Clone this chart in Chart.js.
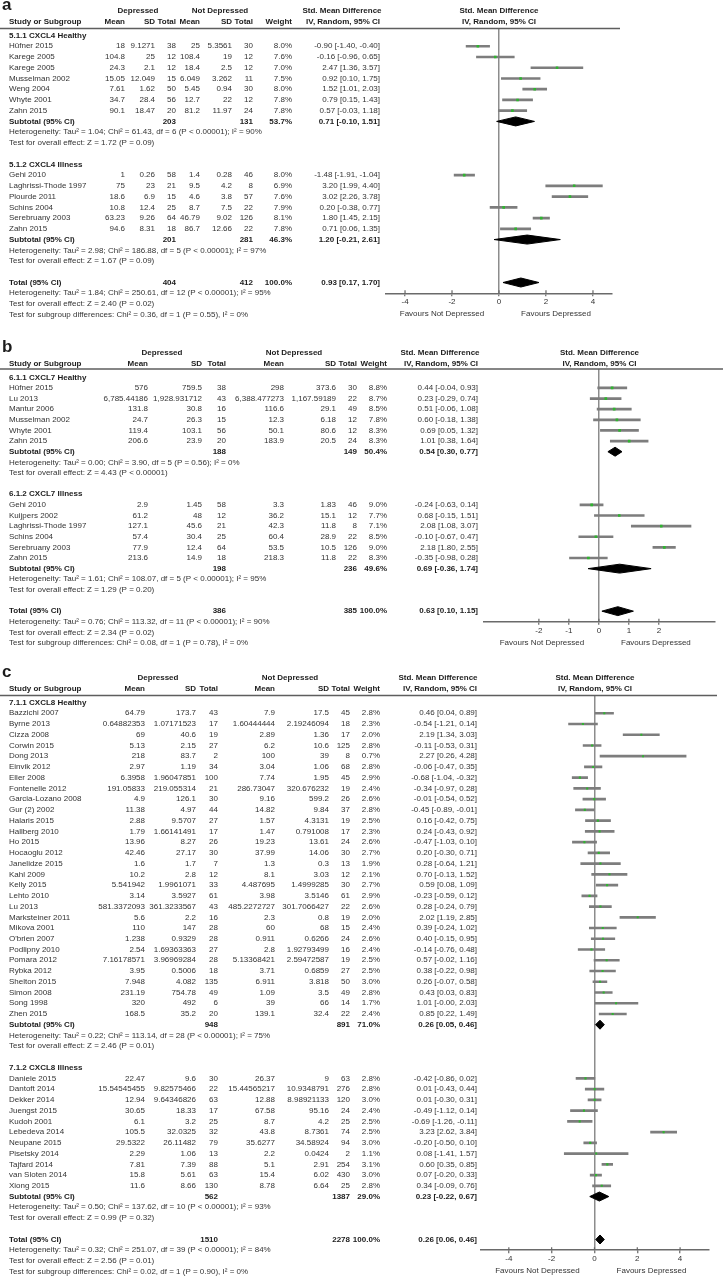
<!DOCTYPE html>
<html>
<head>
<meta charset="utf-8">
<script src="https://cdn.jsdelivr.net/npm/chart.js@4.4.1/dist/chart.umd.min.js"></script>
<style>
  body { margin: 0; background: #fff; }
  #wrap { position: relative; width: 724px; height: 1279px; }
  canvas { position: absolute; left: 0; }
</style>
</head>
<body>
<div id="wrap">
  <canvas id="panelA" width="724" height="335" style="top:0px"></canvas>
  <canvas id="panelB" width="724" height="320" style="top:335px"></canvas>
  <canvas id="panelC" width="724" height="624" style="top:655px"></canvas>
</div>
<script>
// ---- a: CXCL4 ----
const cxcl4Groups = ['5.1.1 CXCL4 Healthy', '5.1.2 CXCL4 Illness']
const cxcl4GroupSize = [7, 6]
const cxcl4Study = ['Hüfner 2015', 'Karege 2005', 'Karege 2005', 'Musselman 2002', 'Weng 2004', 'Whyte 2001', 'Zahn 2015',
  'Gehi 2010', 'Laghrissi-Thode 1997', 'Plourde 2011', 'Schins 2004', 'Serebruany 2003', 'Zahn 2015']
const cxcl4DepMean = ['18', '104.8', '24.3', '15.05', '7.61', '34.7', '90.1', '1', '75', '18.6', '10.8', '63.23', '94.6']
const cxcl4DepSD = ['9.1271', '25', '2.1', '12.049', '1.62', '28.4', '18.47', '0.26', '23', '6.9', '12.4', '9.26', '8.31']
const cxcl4DepN = [38, 12, 12, 15, 50, 56, 20, 58, 21, 15, 25, 64, 18]
const cxcl4CtlMean = ['25', '108.4', '18.4', '6.049', '5.45', '12.7', '81.2', '1.4', '9.5', '4.6', '8.7', '46.79', '86.7']
const cxcl4CtlSD = ['5.3561', '19', '2.5', '3.262', '0.94', '22', '11.97', '0.28', '4.2', '3.8', '7.5', '9.02', '12.66']
const cxcl4CtlN = [30, 12, 12, 11, 30, 12, 24, 46, 8, 57, 22, 126, 22]
const cxcl4Weight = [8.0, 7.6, 7.0, 7.5, 8.0, 7.8, 7.8, 8.0, 6.9, 7.6, 7.9, 8.1, 7.8]
const cxcl4Smd = [-0.90, -0.16, 2.47, 0.92, 1.52, 0.79, 0.57, -1.48, 3.20, 3.02, 0.20, 1.80, 0.71]
const cxcl4Lo = [-1.40, -0.96, 1.36, 0.10, 1.01, 0.15, -0.03, -1.91, 1.99, 2.26, -0.38, 1.45, 0.06]
const cxcl4Hi = [-0.40, 0.65, 3.57, 1.75, 2.03, 1.43, 1.18, -1.04, 4.40, 3.78, 0.77, 2.15, 1.35]
// subtotal 1, subtotal 2, total
const cxcl4PoolDepN = [203, 201, 404]
const cxcl4PoolCtlN = [131, 281, 412]
const cxcl4PoolWeight = [53.7, 46.3, 100.0]
const cxcl4PoolSmd = [0.71, 1.20, 0.93]
const cxcl4PoolLo = [-0.10, -0.21, 0.17]
const cxcl4PoolHi = [1.51, 2.61, 1.70]
const cxcl4Het = ['Tau² = 1.04; Chi² = 61.43, df = 6 (P < 0.00001); I² = 90%',
  'Tau² = 2.98; Chi² = 186.88, df = 5 (P < 0.00001); I² = 97%',
  'Tau² = 1.84; Chi² = 250.61, df = 12 (P < 0.00001); I² = 95%']
const cxcl4Z = ['Z = 1.72 (P = 0.09)', 'Z = 1.67 (P = 0.09)', 'Z = 2.40 (P = 0.02)']
const cxcl4SubDiff = 'Chi² = 0.36, df = 1 (P = 0.55), I² = 0%'
const cxcl4Ticks = [-4, -2, 0, 2, 4]

// ---- b: CXCL7 ----
const cxcl7Groups = ['6.1.1 CXCL7 Healthy', '6.1.2 CXCL7 Illness']
const cxcl7GroupSize = [6, 6]
const cxcl7Study = ['Hüfner 2015', 'Lu 2013', 'Mantur 2006', 'Musselman 2002', 'Whyte 2001', 'Zahn 2015',
  'Gehi 2010', 'Kuijpers 2002', 'Laghrissi-Thode 1997', 'Schins 2004', 'Serebruany 2003', 'Zahn 2015']
const cxcl7DepMean = ['576', '6,785.44186', '131.8', '24.7', '119.4', '206.6', '2.9', '61.2', '127.1', '57.4', '77.9', '213.6']
const cxcl7DepSD = ['759.5', '1,928.931712', '30.8', '26.3', '103.1', '23.9', '1.45', '48', '45.6', '30.4', '12.4', '14.9']
const cxcl7DepN = [38, 43, 16, 15, 56, 20, 58, 12, 21, 25, 64, 18]
const cxcl7CtlMean = ['298', '6,388.477273', '116.6', '12.3', '50.1', '183.9', '3.3', '36.2', '42.3', '60.4', '53.5', '218.3']
const cxcl7CtlSD = ['373.6', '1,167.59189', '29.1', '6.18', '80.6', '20.5', '1.83', '15.1', '11.8', '28.9', '10.5', '11.8']
const cxcl7CtlN = [30, 22, 49, 12, 12, 24, 46, 12, 8, 22, 126, 22]
const cxcl7Weight = [8.8, 8.7, 8.5, 7.8, 8.3, 8.3, 9.0, 7.7, 7.1, 8.5, 9.0, 8.3]
const cxcl7Smd = [0.44, 0.23, 0.51, 0.60, 0.69, 1.01, -0.24, 0.68, 2.08, -0.10, 2.18, -0.35]
const cxcl7Lo = [-0.04, -0.29, -0.06, -0.18, 0.05, 0.38, -0.63, -0.15, 1.08, -0.67, 1.80, -0.98]
const cxcl7Hi = [0.93, 0.74, 1.08, 1.38, 1.32, 1.64, 0.14, 1.51, 3.07, 0.47, 2.55, 0.28]
const cxcl7PoolDepN = [188, 198, 386]
const cxcl7PoolCtlN = [149, 236, 385]
const cxcl7PoolWeight = [50.4, 49.6, 100.0]
const cxcl7PoolSmd = [0.54, 0.69, 0.63]
const cxcl7PoolLo = [0.30, -0.36, 0.10]
const cxcl7PoolHi = [0.77, 1.74, 1.15]
const cxcl7Het = ['Tau² = 0.00; Chi² = 3.90, df = 5 (P = 0.56); I² = 0%',
  'Tau² = 1.61; Chi² = 108.07, df = 5 (P < 0.00001); I² = 95%',
  'Tau² = 0.76; Chi² = 113.32, df = 11 (P < 0.00001); I² = 90%']
const cxcl7Z = ['Z = 4.43 (P < 0.00001)', 'Z = 1.29 (P = 0.20)', 'Z = 2.34 (P = 0.02)']
const cxcl7SubDiff = 'Chi² = 0.08, df = 1 (P = 0.78), I² = 0%'
const cxcl7Ticks = [-2, -1, 0, 1, 2]

// ---- c: CXCL8 ----
const cxcl8Groups = ['7.1.1 CXCL8 Healthy', '7.1.2 CXCL8 Illness']
const cxcl8GroupSize = [29, 11]
const cxcl8Study = ['Bazzichi 2007', 'Byrne 2013', 'Cizza 2008', 'Corwin 2015', 'Dong 2013', 'Einvik 2012', 'Eller 2008',
  'Fontenelle 2012', 'Garcia-Lozano 2008', 'Gur (2) 2002', 'Halaris 2015', 'Hallberg 2010', 'Ho 2015', 'Hocaoglu 2012',
  'Janelidze 2015', 'Kahl 2009', 'Kelly 2015', 'Lehto 2010', 'Lu 2013', 'Marksteiner 2011', 'Mikova 2001', "O'brien 2007",
  'Podlipny 2010', 'Pomara 2012', 'Rybka 2012', 'Shelton 2015', 'Simon 2008', 'Song 1998', 'Zhen 2015',
  'Daniele 2015', 'Dantoft 2014', 'Dekker 2014', 'Juengst 2015', 'Kudoh 2001', 'Lebedeva 2014', 'Neupane 2015',
  'Pisetsky 2014', 'Tajfard 2014', 'van Sloten 2014', 'Xiong 2015']
const cxcl8DepMean = ['64.79', '0.64882353', '69', '5.13', '218', '2.97', '6.3958', '191.05833', '4.9', '11.38', '2.88',
  '1.79', '13.96', '42.46', '1.6', '10.2', '5.541942', '3.14', '581.3372093', '5.6', '110', '1.238', '2.54', '7.16178571',
  '3.95', '7.948', '231.19', '320', '168.5',
  '22.47', '15.54545455', '12.94', '30.65', '6.1', '105.5', '29.5322', '2.29', '7.81', '15.8', '11.6']
const cxcl8DepSD = ['173.7', '1.07171523', '40.6', '2.15', '83.7', '1.19', '1.96047851', '219.055314', '126.1', '4.97',
  '9.5707', '1.66141491', '8.27', '27.17', '1.7', '2.8', '1.9961071', '3.5927', '361.3233567', '2.2', '147', '0.9329',
  '1.69363363', '3.96969284', '0.5006', '4.082', '754.78', '492', '35.2',
  '9.6', '9.82575466', '9.64346826', '18.33', '3.2', '32.0325', '26.11482', '1.06', '7.39', '5.61', '8.66']
const cxcl8DepN = [43, 17, 19, 27, 2, 34, 100, 21, 30, 44, 27, 17, 26, 30, 7, 12, 33, 61, 43, 16, 28, 28, 27, 28, 18, 135, 49, 6, 20,
  30, 22, 63, 17, 25, 32, 79, 13, 88, 63, 130]
const cxcl8CtlMean = ['7.9', '1.60444444', '2.89', '6.2', '100', '3.04', '7.74', '286.73047', '9.16', '14.82', '1.57', '1.47',
  '19.23', '37.99', '1.3', '8.1', '4.487695', '3.98', '485.2272727', '2.3', '60', '0.911', '2.8', '5.13368421', '3.71',
  '6.911', '1.09', '39', '139.1',
  '26.37', '15.44565217', '12.88', '67.58', '8.7', '43.8', '35.6277', '2.2', '5.1', '15.4', '8.78']
const cxcl8CtlSD = ['17.5', '2.19246094', '1.36', '10.6', '39', '1.06', '1.95', '320.676232', '599.2', '9.84', '4.3131',
  '0.791008', '13.61', '14.06', '0.3', '3.03', '1.4999285', '3.5146', '301.7066427', '0.8', '68', '0.6266', '1.92793499',
  '2.59472587', '0.6859', '3.818', '3.5', '66', '32.4',
  '9', '10.9348791', '8.98921133', '95.16', '4.2', '8.7361', '34.58924', '0.0424', '2.91', '6.02', '6.64']
const cxcl8CtlN = [45, 18, 17, 125, 8, 68, 45, 19, 26, 37, 19, 17, 24, 30, 13, 12, 30, 61, 22, 19, 15, 24, 16, 19, 27, 50, 49, 14, 22,
  63, 276, 120, 24, 25, 74, 94, 2, 254, 430, 25]
const cxcl8Weight = [2.8, 2.3, 2.0, 2.8, 0.7, 2.8, 2.9, 2.4, 2.6, 2.8, 2.5, 2.3, 2.6, 2.7, 1.9, 2.1, 2.7, 2.9, 2.6, 2.0, 2.4, 2.6,
  2.4, 2.5, 2.5, 3.0, 2.8, 1.7, 2.4,
  2.8, 2.8, 3.0, 2.4, 2.5, 2.5, 3.0, 1.1, 3.1, 3.0, 2.8]
const cxcl8Smd = [0.46, -0.54, 2.19, -0.11, 2.27, -0.06, -0.68, -0.34, -0.01, -0.45, 0.16, 0.24, -0.47, 0.20, 0.28, 0.70, 0.59,
  -0.23, 0.28, 2.02, 0.39, 0.40, -0.14, 0.57, 0.38, 0.26, 0.43, 1.01, 0.85,
  -0.42, 0.01, 0.01, -0.49, -0.69, 3.23, -0.20, 0.08, 0.60, 0.07, 0.34]
const cxcl8Lo = [0.04, -1.21, 1.34, -0.53, 0.26, -0.47, -1.04, -0.97, -0.54, -0.89, -0.42, -0.43, -1.03, -0.30, -0.64, -0.13, 0.08,
  -0.59, -0.24, 1.19, -0.24, -0.15, -0.76, -0.02, -0.22, -0.07, 0.03, -0.00, 0.22,
  -0.86, -0.43, -0.30, -1.12, -1.26, 2.62, -0.50, -1.41, 0.35, -0.20, -0.09]
const cxcl8Hi = [0.89, 0.14, 3.03, 0.31, 4.28, 0.35, -0.32, 0.28, 0.52, -0.01, 0.75, 0.92, 0.10, 0.71, 1.21, 1.52, 1.09,
  0.12, 0.79, 2.85, 1.02, 0.95, 0.48, 1.16, 0.98, 0.58, 0.83, 2.03, 1.49,
  0.02, 0.44, 0.31, 0.14, -0.11, 3.84, 0.10, 1.57, 0.85, 0.33, 0.76]
const cxcl8PoolDepN = [948, 562, 1510]
const cxcl8PoolCtlN = [891, 1387, 2278]
const cxcl8PoolWeight = [71.0, 29.0, 100.0]
const cxcl8PoolSmd = [0.26, 0.23, 0.26]
const cxcl8PoolLo = [0.05, -0.22, 0.06]
const cxcl8PoolHi = [0.46, 0.67, 0.46]
const cxcl8Het = ['Tau² = 0.22; Chi² = 113.14, df = 28 (P < 0.00001); I² = 75%',
  'Tau² = 0.50; Chi² = 137.62, df = 10 (P < 0.00001); I² = 93%',
  'Tau² = 0.32; Chi² = 251.07, df = 39 (P < 0.00001); I² = 84%']
const cxcl8Z = ['Z = 2.46 (P = 0.01)', 'Z = 0.99 (P = 0.32)', 'Z = 2.56 (P = 0.01)']
const cxcl8SubDiff = 'Chi² = 0.02, df = 1 (P = 0.90), I² = 0%'
const cxcl8Ticks = [-4, -2, 0, 2, 4]

const FONT = '"Liberation Sans", Arial, sans-serif'
const AXIS_H = 20
Chart.defaults.font.family = FONT

function fmt(v) {
  return (Object.is(v, -0) ? '-' : '') + v.toFixed(2)
}

function ciText(m, lo, hi) {
  return `${fmt(m)} [${fmt(lo)}, ${fmt(hi)}]`
}

function drawForest(id, d, g) {
  // lay the rows out: group header, studies, subtotal, 2 notes, gap ... total, 3 notes
  const rows = []
  let r = 0, k = 0
  d.groups.forEach((name, gi) => {
    rows.push({r: r++, kind: 'group', text: name})
    for (let j = 0; j < d.sizes[gi]; j++) rows.push({r: r++, kind: 'study', i: k++})
    rows.push({r: r++, kind: 'pool', p: gi, text: 'Subtotal (95% CI)'})
    rows.push({r: r++, kind: 'note', text: `Heterogeneity: ${d.het[gi]}`})
    rows.push({r: r++, kind: 'note', text: `Test for overall effect: ${d.z[gi]}`})
    r++
  })
  const totalRow = r
  rows.push({r: r++, kind: 'pool', p: 2, text: 'Total (95% CI)'})
  rows.push({r: r++, kind: 'note', text: `Heterogeneity: ${d.het[2]}`})
  rows.push({r: r++, kind: 'note', text: `Test for overall effect: ${d.z[2]}`})
  rows.push({r: r++, kind: 'note', text: `Test for subgroup differences: ${d.subDiff}`})

  const canvas = document.getElementById(id)
  const H = canvas.height
  const yMin = (g.lineY - g.row0) / g.pitch
  const yMax = totalRow + 1
  const areaBottom = g.row0 + yMax * g.pitch

  const studyRows = rows.filter(x => x.kind === 'study')
  const poolRows = rows.filter(x => x.kind === 'pool')
  const half = 0.42

  const datasets = [
    {
      type: 'scatter', order: 0,
      data: studyRows.map(x => ({x: d.smd[x.i], y: x.r})),
      pointStyle: 'rect',
      pointRadius: studyRows.map(x => 1.3 + d.weight[x.i] * 0.07),
      backgroundColor: '#2fb52f', borderWidth: 0
    },
    {
      type: 'bar', order: 1, indexAxis: 'y',
      data: studyRows.map(x => ({y: x.r, x: [d.lo[x.i], d.hi[x.i]]})),
      backgroundColor: '#7d7d7d', barThickness: 2, borderWidth: 0
    },
    ...poolRows.map(x => ({
      type: 'line', order: 2,
      data: [
        {x: d.poolLo[x.p], y: x.r},
        {x: d.poolSmd[x.p], y: x.r - half},
        {x: d.poolHi[x.p], y: x.r},
        {x: d.poolSmd[x.p], y: x.r + half},
        {x: d.poolLo[x.p], y: x.r}
      ],
      borderColor: '#000', backgroundColor: '#000', borderWidth: 1,
      pointRadius: 0, tension: 0, fill: 'shape'
    }))
  ]

  const tablePlugin = {
    id: 'table' + id,
    afterDraw(chart) {
      const ctx = chart.ctx
      const ys = chart.scales.y
      const xs = chart.scales.x
      const area = chart.chartArea
      const c = g.cols
      const put = (s, px, py, align, bold, size) => {
        ctx.font = `${bold ? 'bold ' : ''}${size || 8}px ${FONT}`
        ctx.fillStyle = bold ? '#1c1c1c' : '#333'
        ctx.textAlign = align
        ctx.fillText(s, px, py)
      }
      ctx.save()
      ctx.textBaseline = 'middle'

      // rule under the column headers
      ctx.strokeStyle = '#5e5e5e'
      ctx.lineWidth = 1.4
      ctx.beginPath()
      ctx.moveTo(0, area.top)
      ctx.lineTo(area.right + 8, area.top)
      ctx.stroke()

      // upper half of the axis tick marks, so they cross the axis line
      ctx.strokeStyle = '#666'
      ctx.lineWidth = 1.2
      xs.ticks.forEach(t => {
        const tx = xs.getPixelForValue(t.value)
        ctx.beginPath()
        ctx.moveTo(tx, area.bottom - 3)
        ctx.lineTo(tx, area.bottom)
        ctx.stroke()
      })

      const y0 = ys.getPixelForValue(0)
      const h1 = y0 - 25, h2 = y0 - 14
      const midX = (area.left + area.right) / 2
      put(g.letter, 2, y0 - 30, 'left', true, 17)
      put('Depressed', g.depC, h1, 'center', true)
      put('Not Depressed', g.ctlC, h1, 'center', true)
      put('Std. Mean Difference', g.smdC, h1, 'center', true)
      put('Std. Mean Difference', midX, h1, 'center', true)
      put('Study or Subgroup', 9, h2, 'left', true)
      const heads = ['Mean', 'SD', 'Total', 'Mean', 'SD', 'Total', 'Weight', 'IV, Random, 95% CI']
      heads.forEach((h, j) => put(h, c[j], h2, 'right', true))
      put('IV, Random, 95% CI', midX, h2, 'center', true)

      rows.forEach(row => {
        const py = ys.getPixelForValue(row.r)
        if (row.kind === 'group') put(row.text, 9, py, 'left', true)
        if (row.kind === 'note') put(row.text, 9, py, 'left', false)
        if (row.kind === 'study') {
          const i = row.i
          put(d.study[i], 9, py, 'left', false)
          put(d.depMean[i], c[0], py, 'right', false)
          put(d.depSD[i], c[1], py, 'right', false)
          put(String(d.depN[i]), c[2], py, 'right', false)
          put(d.ctlMean[i], c[3], py, 'right', false)
          put(d.ctlSD[i], c[4], py, 'right', false)
          put(String(d.ctlN[i]), c[5], py, 'right', false)
          put(d.weight[i].toFixed(1) + '%', c[6], py, 'right', false)
          put(ciText(d.smd[i], d.lo[i], d.hi[i]), c[7], py, 'right', false)
        }
        if (row.kind === 'pool') {
          const p = row.p
          put(row.text, 9, py, 'left', true)
          put(String(d.poolDepN[p]), c[2], py, 'right', true)
          put(String(d.poolCtlN[p]), c[5], py, 'right', true)
          put(d.poolWeight[p].toFixed(1) + '%', c[6], py, 'right', true)
          put(ciText(d.poolSmd[p], d.poolLo[p], d.poolHi[p]), c[7], py, 'right', true)
        }
      })

      const zx = xs.getPixelForValue(0)
      put('Favours Not Depressed', zx - 57, area.bottom + 21, 'center', false)
      put('Favours Depressed', zx + 57, area.bottom + 21, 'center', false)
      ctx.restore()
    }
  }

  new Chart(canvas, {
    type: 'scatter',
    data: {datasets: datasets},
    options: {
      responsive: false,
      devicePixelRatio: 1,
      animation: false,
      events: [],
      layout: {
        padding: {
          top: g.lineY,
          bottom: H - areaBottom - AXIS_H,
          left: g.left,
          right: 724 - g.right
        }
      },
      plugins: {legend: {display: false}, tooltip: {enabled: false}},
      scales: {
        x: {
          type: 'linear',
          min: g.xMin, max: g.xMax,
          bounds: 'data', offset: false,
          afterBuildTicks: s => { s.ticks = d.ticks.map(v => ({value: v})) },
          afterFit: s => { s.height = AXIS_H },
          ticks: {font: {size: 8}, color: '#333', padding: 1, maxRotation: 0, autoSkip: false},
          grid: {
            offset: false,
            drawOnChartArea: true,
            color: ctx => (ctx.tick && ctx.tick.value === 0) ? '#8c8c8c' : 'rgba(0,0,0,0)',
            lineWidth: 1.5,
            tickLength: 3,
            tickColor: '#666',
            tickWidth: 1.2
          },
          border: {display: true, color: '#6a6a6a', width: 1.5}
        },
        y: {
          type: 'linear',
          display: false,
          reverse: true,
          bounds: 'data', offset: false,
          min: yMin, max: yMax
        }
      }
    },
    plugins: [tablePlugin]
  })
}

drawForest('panelA', {
  groups: cxcl4Groups, sizes: cxcl4GroupSize, study: cxcl4Study,
  depMean: cxcl4DepMean, depSD: cxcl4DepSD, depN: cxcl4DepN,
  ctlMean: cxcl4CtlMean, ctlSD: cxcl4CtlSD, ctlN: cxcl4CtlN,
  weight: cxcl4Weight, smd: cxcl4Smd, lo: cxcl4Lo, hi: cxcl4Hi,
  poolDepN: cxcl4PoolDepN, poolCtlN: cxcl4PoolCtlN, poolWeight: cxcl4PoolWeight,
  poolSmd: cxcl4PoolSmd, poolLo: cxcl4PoolLo, poolHi: cxcl4PoolHi,
  het: cxcl4Het, z: cxcl4Z, subDiff: cxcl4SubDiff, ticks: cxcl4Ticks
}, {
  letter: 'a', row0: 35.5, pitch: 10.74, lineY: 28.5,
  xMin: -4.81, xMax: 4.81, left: 386, right: 612,
  cols: [125, 155, 176, 200, 232, 253, 292, 380], depC: 138, ctlC: 220, smdC: 342
})

drawForest('panelB', {
  groups: cxcl7Groups, sizes: cxcl7GroupSize, study: cxcl7Study,
  depMean: cxcl7DepMean, depSD: cxcl7DepSD, depN: cxcl7DepN,
  ctlMean: cxcl7CtlMean, ctlSD: cxcl7CtlSD, ctlN: cxcl7CtlN,
  weight: cxcl7Weight, smd: cxcl7Smd, lo: cxcl7Lo, hi: cxcl7Hi,
  poolDepN: cxcl7PoolDepN, poolCtlN: cxcl7PoolCtlN, poolWeight: cxcl7PoolWeight,
  poolSmd: cxcl7PoolSmd, poolLo: cxcl7PoolLo, poolHi: cxcl7PoolHi,
  het: cxcl7Het, z: cxcl7Z, subDiff: cxcl7SubDiff, ticks: cxcl7Ticks
}, {
  letter: 'b', row0: 42.3, pitch: 10.63, lineY: 34,
  xMin: -3.83, xMax: 3.87, left: 484, right: 715,
  cols: [148, 202, 226, 284, 336, 357, 387, 478], depC: 162, ctlC: 294, smdC: 440
})

drawForest('panelC', {
  groups: cxcl8Groups, sizes: cxcl8GroupSize, study: cxcl8Study,
  depMean: cxcl8DepMean, depSD: cxcl8DepSD, depN: cxcl8DepN,
  ctlMean: cxcl8CtlMean, ctlSD: cxcl8CtlSD, ctlN: cxcl8CtlN,
  weight: cxcl8Weight, smd: cxcl8Smd, lo: cxcl8Lo, hi: cxcl8Hi,
  poolDepN: cxcl8PoolDepN, poolCtlN: cxcl8PoolCtlN, poolWeight: cxcl8PoolWeight,
  poolSmd: cxcl8PoolSmd, poolLo: cxcl8PoolLo, poolHi: cxcl8PoolHi,
  het: cxcl8Het, z: cxcl8Z, subDiff: cxcl8SubDiff, ticks: cxcl8Ticks
}, {
  letter: 'c', row0: 47.5, pitch: 10.74, lineY: 40.5,
  xMin: -5.3, xMax: 5.35, left: 481, right: 709,
  cols: [145, 196, 218, 275, 329, 350, 380, 477], depC: 158, ctlC: 290, smdC: 438
})
</script>
</body>
</html>
